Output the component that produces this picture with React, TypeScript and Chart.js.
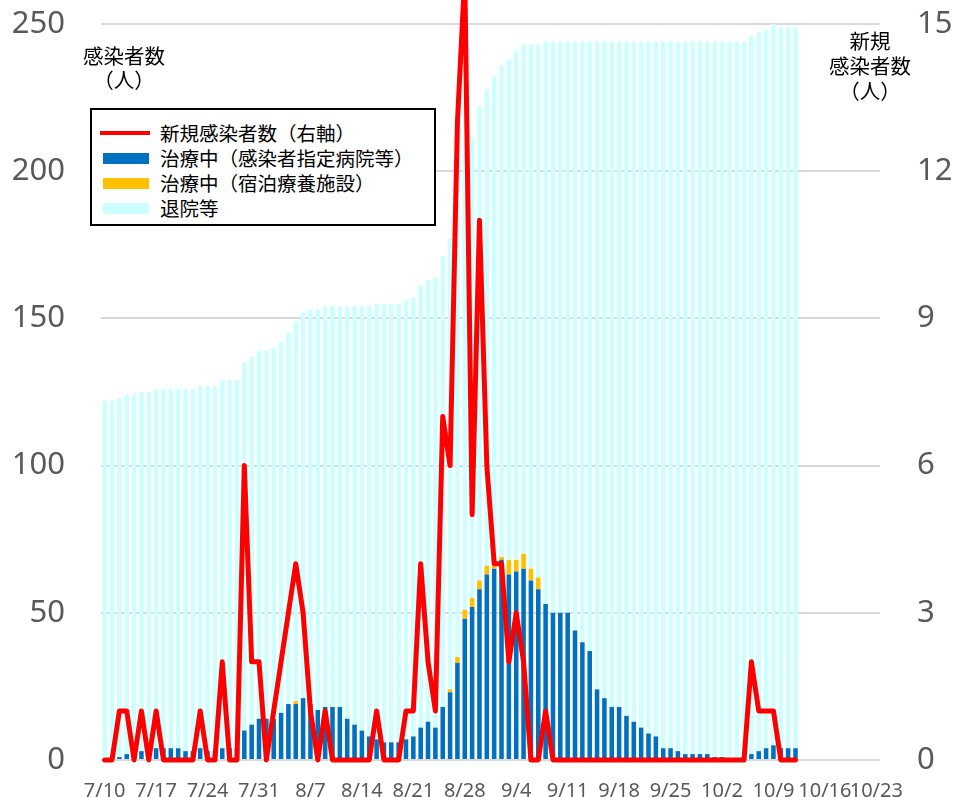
import React, { useEffect, useRef } from 'react';
import { Chart, registerables } from 'chart.js';

Chart.register(...registerables);

const CATEGORIES = [
  '7/10', '7/11', '7/12', '7/13', '7/14', '7/15', '7/16', '7/17', '7/18', '7/19', '7/20', '7/21', '7/22', '7/23', '7/24', '7/25', '7/26', '7/27', '7/28', '7/29', '7/30', '7/31',
  '8/1', '8/2', '8/3', '8/4', '8/5', '8/6', '8/7', '8/8', '8/9', '8/10', '8/11', '8/12', '8/13', '8/14', '8/15', '8/16', '8/17', '8/18', '8/19', '8/20', '8/21', '8/22', '8/23', '8/24', '8/25', '8/26', '8/27', '8/28', '8/29', '8/30', '8/31',
  '9/1', '9/2', '9/3', '9/4', '9/5', '9/6', '9/7', '9/8', '9/9', '9/10', '9/11', '9/12', '9/13', '9/14', '9/15', '9/16', '9/17', '9/18', '9/19', '9/20', '9/21', '9/22', '9/23', '9/24', '9/25', '9/26', '9/27', '9/28', '9/29', '9/30',
  '10/1', '10/2', '10/3', '10/4', '10/5', '10/6', '10/7', '10/8', '10/9', '10/10', '10/11', '10/12', '10/13', '10/14', '10/15', '10/16', '10/17', '10/18', '10/19', '10/20', '10/21', '10/22', '10/23',
];

const TICK_LABELS = ['7/10', '7/17', '7/24', '7/31', '8/7', '8/14', '8/21', '8/28', '9/4', '9/11', '9/18', '9/25', '10/2', '10/9', '10/16', '10/23'];

// 新規感染者数 (right axis), 7/10 - 10/12
const NEW_CASES = [
  0, 0, 1, 1, 0, 1, 0, 1, 0, 0,
  0, 0, 0, 1, 0, 0, 2, 0, 0, 6,
  2, 2, 0, 1, 2, 3, 4, 3, 1, 0,
  1, 0, 0, 0, 0, 0, 0, 1, 0, 0,
  0, 1, 1, 4, 2, 1, 7, 6, 13, 16,
  5, 11, 6, 4, 4, 2, 3, 2, 0, 0,
  1, 0, 0, 0, 0, 0, 0, 0, 0, 0,
  0, 0, 0, 0, 0, 0, 0, 0, 0, 0,
  0, 0, 0, 0, 0, 0, 0, 0, 2, 1,
  1, 1, 0, 0, 0,
];

// 治療中（感染者指定病院等）
const HOSPITAL = [
  0, 0, 1, 2, 2, 3, 3, 4, 4, 4,
  4, 3, 3, 4, 3, 3, 4, 4, 4, 10,
  12, 14, 14, 14, 16, 19, 19, 21, 19, 17,
  18, 18, 18, 14, 12, 10, 8, 7, 6, 6,
  6, 7, 8, 11, 13, 11, 18, 23, 33, 48,
  52, 58, 63, 65, 68, 63, 64, 65, 61, 58,
  53, 50, 50, 50, 44, 40, 37, 24, 21, 18,
  18, 15, 13, 11, 9, 8, 4, 4, 3, 2,
  2, 2, 2, 1, 1, 0, 0, 0, 2, 3,
  4, 5, 4, 4, 4,
];

// 治療中（宿泊療養施設）
const HOTEL = [
  0, 0, 0, 0, 0, 0, 0, 0, 0, 0,
  0, 0, 0, 0, 0, 0, 0, 0, 0, 0,
  0, 0, 0, 0, 0, 0, 1, 0, 0, 0,
  0, 0, 0, 0, 0, 0, 0, 0, 0, 0,
  0, 0, 0, 0, 0, 0, 0, 1, 2, 3,
  3, 3, 3, 1, 1, 5, 4, 5, 4, 4,
  0, 0, 0, 0, 0, 0, 0, 0, 0, 0,
  0, 0, 0, 0, 0, 0, 0, 0, 0, 0,
  0, 0, 0, 0, 0, 0, 0, 0, 0, 0,
  0, 0, 0, 0, 0,
];

// 退院等
const DISCHARGED = [
  122, 122, 122, 122, 122, 122, 122, 122, 122, 122,
  122, 123, 123, 123, 124, 124, 125, 125, 125, 125,
  125, 125, 125, 126, 126, 126, 129, 131, 134, 136,
  136, 136, 136, 140, 142, 144, 146, 148, 149, 149,
  149, 149, 149, 150, 150, 153, 153, 153, 155, 155,
  156, 161, 162, 166, 167, 170, 173, 173, 178, 181,
  191, 194, 194, 194, 200, 204, 207, 220, 223, 226,
  226, 229, 231, 233, 235, 236, 240, 240, 241, 242,
  242, 242, 242, 243, 243, 244, 244, 244, 244, 244,
  244, 245, 245, 245, 245,
];

const LEGEND_ITEMS = [
  { label: '新規感染者数（右軸）', color: '#ff0000', kind: 'line' },
  { label: '治療中（感染者指定病院等）', color: '#0070c0', kind: 'box' },
  { label: '治療中（宿泊療養施設）', color: '#ffc000', kind: 'box' },
  { label: '退院等', color: '#ccffff', kind: 'box' },
];

const LEFT_TITLE = ['感染者数', '（人）'];
const RIGHT_TITLE = ['新規', '感染者数', '（人）'];

const TICK_COLOR = '#595959';
const CJK = '"Noto Sans CJK JP", "Noto Sans", sans-serif';

const noOverflow = (s: any) => {
  s.paddingTop = 0;
  s.paddingBottom = 0;
  s.paddingLeft = 0;
  s.paddingRight = 0;
};

export default function App() {
  const canvasRef = useRef<HTMLCanvasElement | null>(null);

  useEffect(() => {
    if (!canvasRef.current) return;
    const chart = new Chart(canvasRef.current, {
      type: 'bar',
      data: {
        labels: CATEGORIES,
        datasets: [
          {
            type: 'line',
            label: LEGEND_ITEMS[0].label,
            data: NEW_CASES,
            yAxisID: 'y1',
            borderColor: '#ff0000',
            backgroundColor: '#ff0000',
            borderWidth: 5,
            pointRadius: 0,
            tension: 0,
            borderJoinStyle: 'round',
            borderCapStyle: 'round',
            clip: false,
            order: 0,
          } as any,
          {
            label: LEGEND_ITEMS[1].label,
            data: HOSPITAL,
            backgroundColor: '#0070c0',
            yAxisID: 'y',
            stack: 's',
            order: 1,
          },
          {
            label: LEGEND_ITEMS[2].label,
            data: HOTEL,
            backgroundColor: '#ffc000',
            yAxisID: 'y',
            stack: 's',
            order: 1,
          },
          {
            label: LEGEND_ITEMS[3].label,
            data: DISCHARGED,
            backgroundColor: '#ccffff',
            yAxisID: 'y',
            stack: 's',
            order: 1,
          },
        ],
      },
      options: {
        animation: false,
        responsive: false,
        layout: { padding: { top: 24, left: 0, right: 0, bottom: 0 } },
        plugins: { legend: { display: false }, tooltip: { enabled: false } },
        datasets: { bar: { categoryPercentage: 1, barPercentage: 0.62 } },
        scales: {
          x: {
            stacked: true,
            grid: { display: false, drawTicks: false },
            border: { display: false },
            ticks: {
              autoSkip: false,
              maxRotation: 0,
              minRotation: 0,
              padding: 19,
              color: TICK_COLOR,
              font: { family: '"Noto Sans", sans-serif', size: 20 },
              callback: (_v: any, i: number) => (TICK_LABELS.includes(CATEGORIES[i]) ? CATEGORIES[i] : ''),
            },
            afterFit: (s: any) => {
              s.height = 37;
              noOverflow(s);
            },
          },
          y: {
            stacked: true,
            position: 'left',
            min: 0,
            max: 250,
            ticks: {
              stepSize: 50,
              padding: 36,
              color: TICK_COLOR,
              font: { family: '"Noto Sans", sans-serif', size: 31 },
            },
            grid: { color: '#d9d9d9', lineWidth: 2, drawTicks: false },
            border: { display: false },
            afterFit: (s: any) => {
              s.width = 101;
              noOverflow(s);
            },
          },
          y1: {
            position: 'right',
            min: 0,
            max: 15,
            ticks: {
              stepSize: 3,
              padding: 37,
              color: TICK_COLOR,
              font: { family: '"Noto Sans", sans-serif', size: 31 },
            },
            grid: { drawOnChartArea: false, drawTicks: false },
            border: { display: false },
            afterFit: (s: any) => {
              s.width = 75;
              noOverflow(s);
            },
          },
        },
      } as any,
    });
    return () => chart.destroy();
  }, []);

  const titleLine = (text: string, cx: number, cy: number, key: string) => (
    <div
      key={key}
      style={{
        position: 'absolute',
        left: cx - 60,
        top: cy - 13,
        width: 120,
        height: 26,
        lineHeight: '26px',
        textAlign: 'center',
        fontFamily: CJK,
        fontSize: 20.5,
        color: '#000',
        whiteSpace: 'nowrap',
      }}
    >
      {text}
    </div>
  );

  return (
    <div style={{ position: 'absolute', left: 0, top: 0, width: 955, height: 797, background: '#fff', overflow: 'hidden' }}>
      <canvas ref={canvasRef} width={955} height={797} style={{ display: 'block', width: 955, height: 797 }} />
      {titleLine(LEFT_TITLE[0], 124, 55, 'l0')}
      {titleLine(LEFT_TITLE[1], 124, 79, 'l1')}
      {titleLine(RIGHT_TITLE[0], 870, 40, 'r0')}
      {titleLine(RIGHT_TITLE[1], 870, 65, 'r1')}
      {titleLine(RIGHT_TITLE[2], 870, 90, 'r2')}
      <div
        style={{
          position: 'absolute',
          left: 90,
          top: 108,
          width: 346,
          height: 118,
          boxSizing: 'border-box',
          border: '2px solid #000',
          background: '#fff',
        }}
      >
        {LEGEND_ITEMS.map((item, k) => {
          const cy = 23.3 + k * 25;
          return (
            <React.Fragment key={item.label}>
              {item.kind === 'line' ? (
                <div style={{ position: 'absolute', left: 8, top: cy - 2, width: 50, height: 4, background: item.color }} />
              ) : (
                <div style={{ position: 'absolute', left: 11, top: cy - 5.5, width: 46, height: 11, background: item.color }} />
              )}
              <div
                style={{
                  position: 'absolute',
                  left: 68,
                  top: cy - 12,
                  height: 24,
                  lineHeight: '24px',
                  fontFamily: CJK,
                  fontSize: 19.5,
                  color: '#000',
                  whiteSpace: 'nowrap',
                }}
              >
                {item.label}
              </div>
            </React.Fragment>
          );
        })}
      </div>
    </div>
  );
}
